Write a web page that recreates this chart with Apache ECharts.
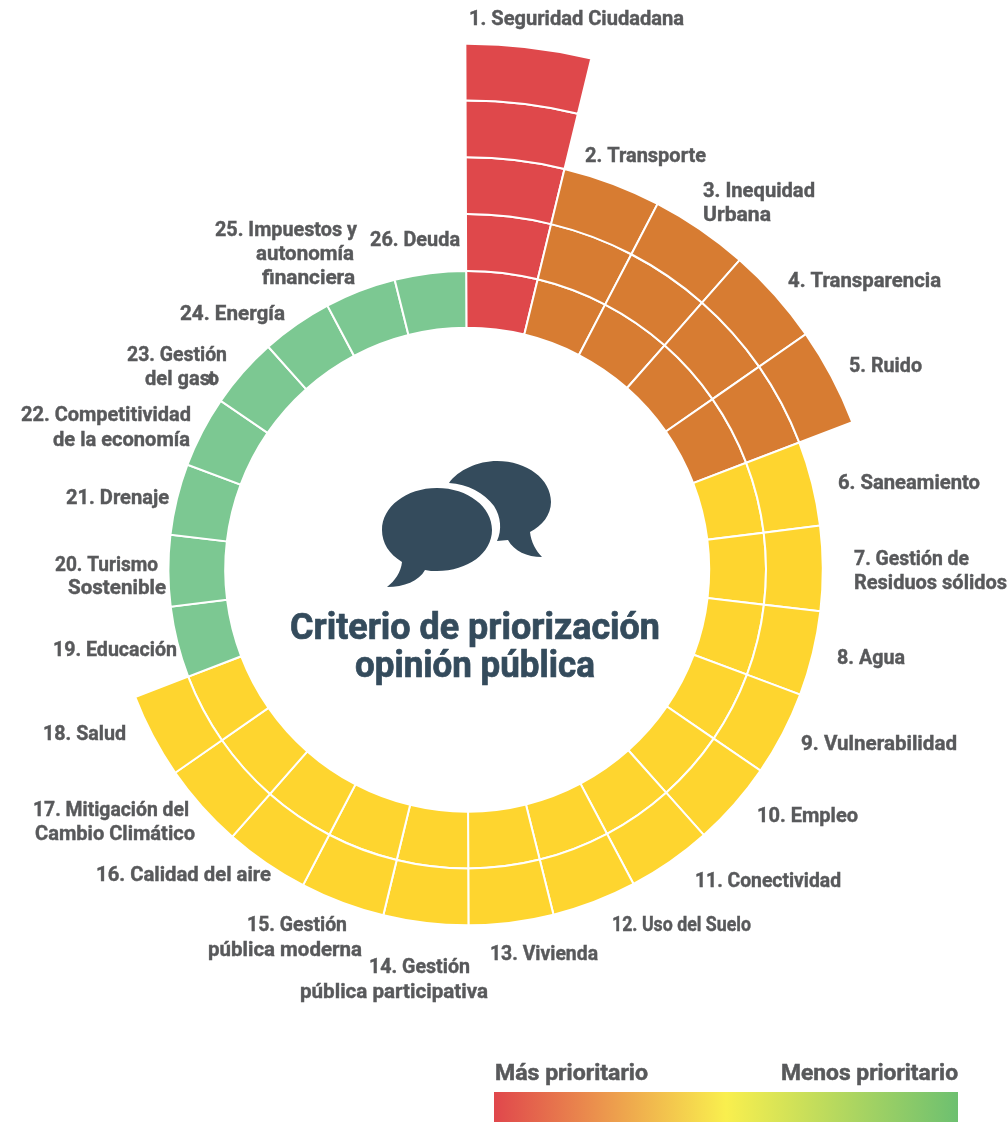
<!DOCTYPE html>
<html>
<head>
<meta charset="utf-8">
<title>Criterio de priorización opinión pública</title>
<style>html,body{margin:0;padding:0;background:#fff}#chart{width:1007px;height:1122px}</style>
<script src="https://cdn.jsdelivr.net/npm/echarts@6/dist/echarts.min.js"></script>
</head>
<body>
<div id="chart"></div>
<script>
// Criteria, clockwise from twelve o'clock
const categories = [
  'Seguridad Ciudadana','Transporte','Inequidad Urbana','Transparencia','Ruido',
  'Saneamiento','Gestión de Residuos sólidos','Agua','Vulnerabilidad','Empleo',
  'Conectividad','Uso del Suelo','Vivienda','Gestión pública participativa',
  'Gestión pública moderna','Calidad del aire','Mitigación del Cambio Climático','Salud',
  'Educación','Turismo Sostenible','Drenaje','Competitividad de la economía',
  'Gestión del gasto','Energía','Impuestos y autonomía financiera','Deuda'
];
// Number of rings filled for each criterion
const ringCounts = [5,3,3,3,3,2,2,2,2,2,2,2,2,2,2,2,2,2,1,1,1,1,1,1,1,1];
// Ring count -> fill colour
const ringColors = {5:'#DF484B',3:'#D77C32',2:'#FED52F',1:'#7CC892'};
const maxRings = 5;

// Label lines: text, left edge, right edge, centre y
const labelLines = [
  ['1. Seguridad Ciudadana',469,684,18],
  ['2. Transporte',585,706,155],
  ['3. Inequidad',703,815,190],['Urbana',703,771,214],
  ['4. Transparencia',788,941,280],
  ['5. Ruido',849,922,365],
  ['6. Saneamiento',838,980,482],
  ['7. Gestión de',854,969,558],['Residuos sólidos',854,1007,582],
  ['8. Agua',837,905,657],
  ['9. Vulnerabilidad',801,957,743],
  ['10. Empleo',757,858,815],
  ['11. Conectividad',695,841,880],
  ['12. Uso del Suelo',612,751,924],
  ['13. Vivienda',490,598,953],
  ['14. Gestión',369,470,966],['pública participativa',300,488,991],
  ['15. Gestión',247,347,924],['pública moderna',208,362,949],
  ['16. Calidad del aire',96,271,874],
  ['17. Mitigación del',33,189,809],['Cambio Climático',35,195,833],
  ['18. Salud',43,126,733],
  ['19. Educación',53,177,649],
  ['20. Turismo',55,158,564],['Sostenible',68,166,587],
  ['21. Drenaje',66,169,497],
  ['22. Competitividad',21,191,414],['de la economía',53,190,439],
  ['23. Gestión',127,227,354],['del gas',145,210,378],['t',209,215,378],['o',208,219,378],
  ['24. Energía',180,285,313],
  ['25. Impuestos y',215,357,229],['autonomía',256,354,253],['financiera',262,355,277],
  ['26. Deuda',370,460,239]
];

const labelColor = '#58595B';
const navy = '#344B5C';

// Natural width of a string, used to fit each line to its slot
const measureCtx = document.createElement('canvas').getContext('2d');
function fittedText(text, left, right, y, font, fill, weight) {
  measureCtx.font = font;
  return {
    type: 'text', x: left, y, scaleX: (right - left) / measureCtx.measureText(text).width,
    style: {text, font, fill, stroke: fill, lineWidth: weight, align: 'left', verticalAlign: 'middle'}
  };
}

// One stacked series per ring, innermost first
const ringSeries = [];
for (let ring = 0; ring < maxRings; ring++) {
  ringSeries.push({
    type: 'bar',
    coordinateSystem: 'polar',
    stack: 'rings',
    barCategoryGap: 0,
    silent: true,
    data: ringCounts.map(n => n > ring
      ? {value: 1, itemStyle: {color: ringColors[n]}}
      : {value: 0, itemStyle: {opacity: 0}}),
    itemStyle: {borderColor: '#fff', borderWidth: 2}
  });
}

const labelFont = '700 20px Roboto, sans-serif';
const textEls = labelLines.map(([text, left, right, y]) =>
  fittedText(text, left, right, y + 2, labelFont, labelColor, 0.4));

// Speech bubble icon in the middle of the ring
echarts.graphic.registerShape('bubbleBack', echarts.graphic.extendPath('M449,483 C458,470 478,461 497,461 C527,461 551,479 551,502 C551,515 542,526 530,532 C531,542 536,551 542,557 C527,557 514,551 508,540 L497,541 C502,530 501,517 494,506 C484,493 468,484 449,483 Z', {}));
echarts.graphic.registerShape('bubbleFront', echarts.graphic.extendPath('M437,488 C468,488 492,507 492,530 C492,553 468,571 437,571 C433,571 429,571 425,570 C419,581 404,587 387,587 C395,581 401,572 402,562 C389,554 382,543 382,530 C382,507 406,488 437,488 Z', {}));

const titleFont = '700 36px Roboto, sans-serif';
const legendFont = '700 22px Roboto, sans-serif';

const chart = echarts.init(document.getElementById('chart'));
chart.setOption({
  animation: false,
  backgroundColor: '#fff',
  polar: {center: [467.2, 569.7], radius: [242, 526]},
  angleAxis: {
    type: 'category', data: categories, startAngle: 90.2, clockwise: true,
    axisLine: {show: false}, axisTick: {show: false}, axisLabel: {show: false}, splitLine: {show: false}
  },
  radiusAxis: {
    type: 'value', min: 0, max: maxRings,
    axisLine: {show: false}, axisTick: {show: false}, axisLabel: {show: false}, splitLine: {show: false}
  },
  series: ringSeries,
  graphic: [
    ...textEls,
    {type: 'bubbleBack', style: {fill: navy}},
    {type: 'bubbleFront', style: {fill: navy}},
    fittedText('Criterio de priorización', 290, 660, 630, titleFont, navy, 0.7),
    fittedText('opinión pública', 355, 595, 668, titleFont, navy, 0.7),
    fittedText('Más prioritario', 495, 648, 1074, legendFont, labelColor, 0.5),
    fittedText('Menos prioritario', 781, 958, 1074, legendFont, labelColor, 0.5),
    {type: 'rect', shape: {x: 494, y: 1092, width: 464, height: 30},
      style: {fill: new echarts.graphic.LinearGradient(0, 0, 1, 0, [
        {offset: 0, color: '#E0474C'}, {offset: 0.5, color: '#F9EF4E'}, {offset: 1, color: '#6DC070'}
      ])}}
  ]
});
</script>
</body>
</html>
